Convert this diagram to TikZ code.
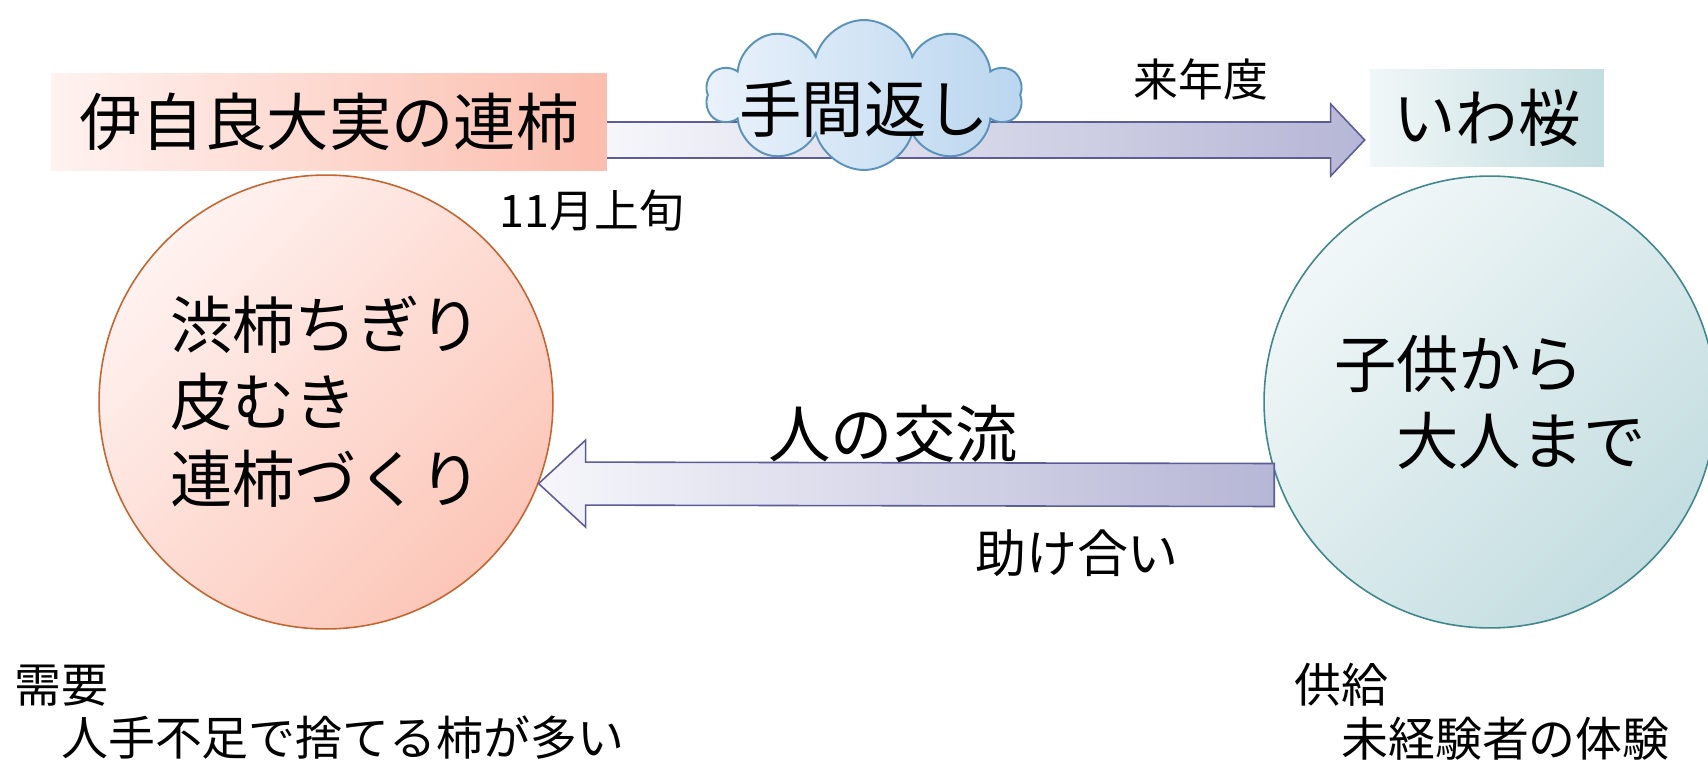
\documentclass[tikz,border=0pt]{standalone}
\usepackage{fontspec}
\setmainfont{Noto Sans CJK JP}
\usepackage{xcolor}
\usepackage{tikz}
\usetikzlibrary{positioning}
\usetikzlibrary{shapes,shapes.symbols}
\usetikzlibrary{calc}
\usetikzlibrary{backgrounds}

\definecolor{kakiL}{HTML}{FFF2F0}
\definecolor{kakiD}{HTML}{FBBDAD}
\definecolor{kakiM}{HTML}{FCC6B8}
\definecolor{kakiE}{HTML}{C4652F}
\definecolor{sakuL}{HTML}{F1F7F8}
\definecolor{sakuD}{HTML}{C3DDE0}
\definecolor{sakuE}{HTML}{3F878B}
\definecolor{yaL}{HTML}{F6F6FB}
\definecolor{yaD}{HTML}{B6B6D6}
\definecolor{yaE}{HTML}{5C5C99}
\definecolor{kumoL}{HTML}{EAF2FB}
\definecolor{kumoD}{HTML}{BAD6EF}
\definecolor{kumoE}{HTML}{5A92BA}

\tikzset{
  big/.style={font=\fontsize{35.5}{43.8}\selectfont},
  mid/.style={font=\fontsize{25.5}{30}\selectfont},
  note/.style={font=\fontsize{26.7}{30.5}\selectfont, align=left, anchor=west, inner sep=0pt},
  yajirushi/.style={left color=yaL, right color=yaD, draw=yaE, line width=0.9pt, line join=miter},
}

\begin{document}
\begin{tikzpicture}[x=0.02cm, y=-0.02cm]
 \useasboundingbox (0,0) rectangle (1708,767);

 %top row
 \node[big, inner sep=0pt, minimum width=11.12cm, minimum height=1.96cm, left color=kakiL, right color=kakiD] (rengaki) at (329,122) {伊自良大実の連柿};
 \node[big, inner sep=0pt, minimum width=4.68cm, minimum height=1.96cm, left color=sakuL, right color=sakuD] (iwazakura) at (1487,118) {いわ桜};
 \node[cloud, cloud puffs=10, cloud ignores aspect, draw=kumoE, line width=1.1pt, left color=kumoL, right color=kumoD, minimum width=6.32cm, minimum height=3cm, inner sep=0pt,
       label={[big, yshift=-0.28cm]center:手間返し}] (tegaeshi) at (864,95) {};

 %circles
 \node[big, circle, align=left, draw=kakiE, line width=0.9pt, top color=kakiL, bottom color=kakiM, shading angle=45, minimum size=9.08cm] (shibugaki) at (326,402) {渋柿ちぎり\\皮むき\\連柿づくり};
 \node[big, circle, align=left, draw=sakuE, line width=0.9pt, top color=sakuL, bottom color=sakuD, shading angle=45, minimum size=9.04cm] (kodomo) at (1490,402) {子供から\\　大人まで};

 %arrow
 \coordinate (ue0) at ($(rengaki.east)+(-6,18)$);
 \coordinate (ue1) at ($(iwazakura.west)+(-5,22)$);
 \begin{pgfonlayer}{background}
 \path[yajirushi] ($(ue0)+(0,-18)$) -- ($(ue1)+(-34,-18)$) -- ($(ue1)+(-34,-36)$) -- (ue1) -- ($(ue1)+(-34,36)$) -- ($(ue1)+(-34,18)$) -- ($(ue0)+(0,18)$) -- cycle;
 \end{pgfonlayer}

 \coordinate (shita0) at ($(kodomo.west)+(11,83)$);
 \coordinate (shita1) at (shibugaki.-21.4);
 \path[yajirushi] ($(shita0)+(0,-21.5)$) -- ($(shita1)+(47,-21.5)$) -- ($(shita1)+(47,-43.5)$) -- (shita1) -- ($(shita1)+(47,43.5)$) -- ($(shita1)+(47,21.5)$) -- ($(shita0)+(0,21.5)$) -- cycle;

 %labels
 \node[mid] (rainendo) at (1201,79) {来年度};
 \node[mid] (jojun) at (592,211) {11月上旬};
 \node[big] (koryu) at (893,434) {人の交流};
 \node[font=\fontsize{29}{34}\selectfont] (tasukeai) at (1077,553) {助け合い};

 %supply and demand
 \foreach \x/\nm/\a/\b in {14/juyo/需要/人手不足で捨てる柿が多い, 1294/kyokyu/供給/未経験者の体験}
   \node[note] (\nm) at (\x,712) {\a\\　\b};

\end{tikzpicture}
\end{document}
